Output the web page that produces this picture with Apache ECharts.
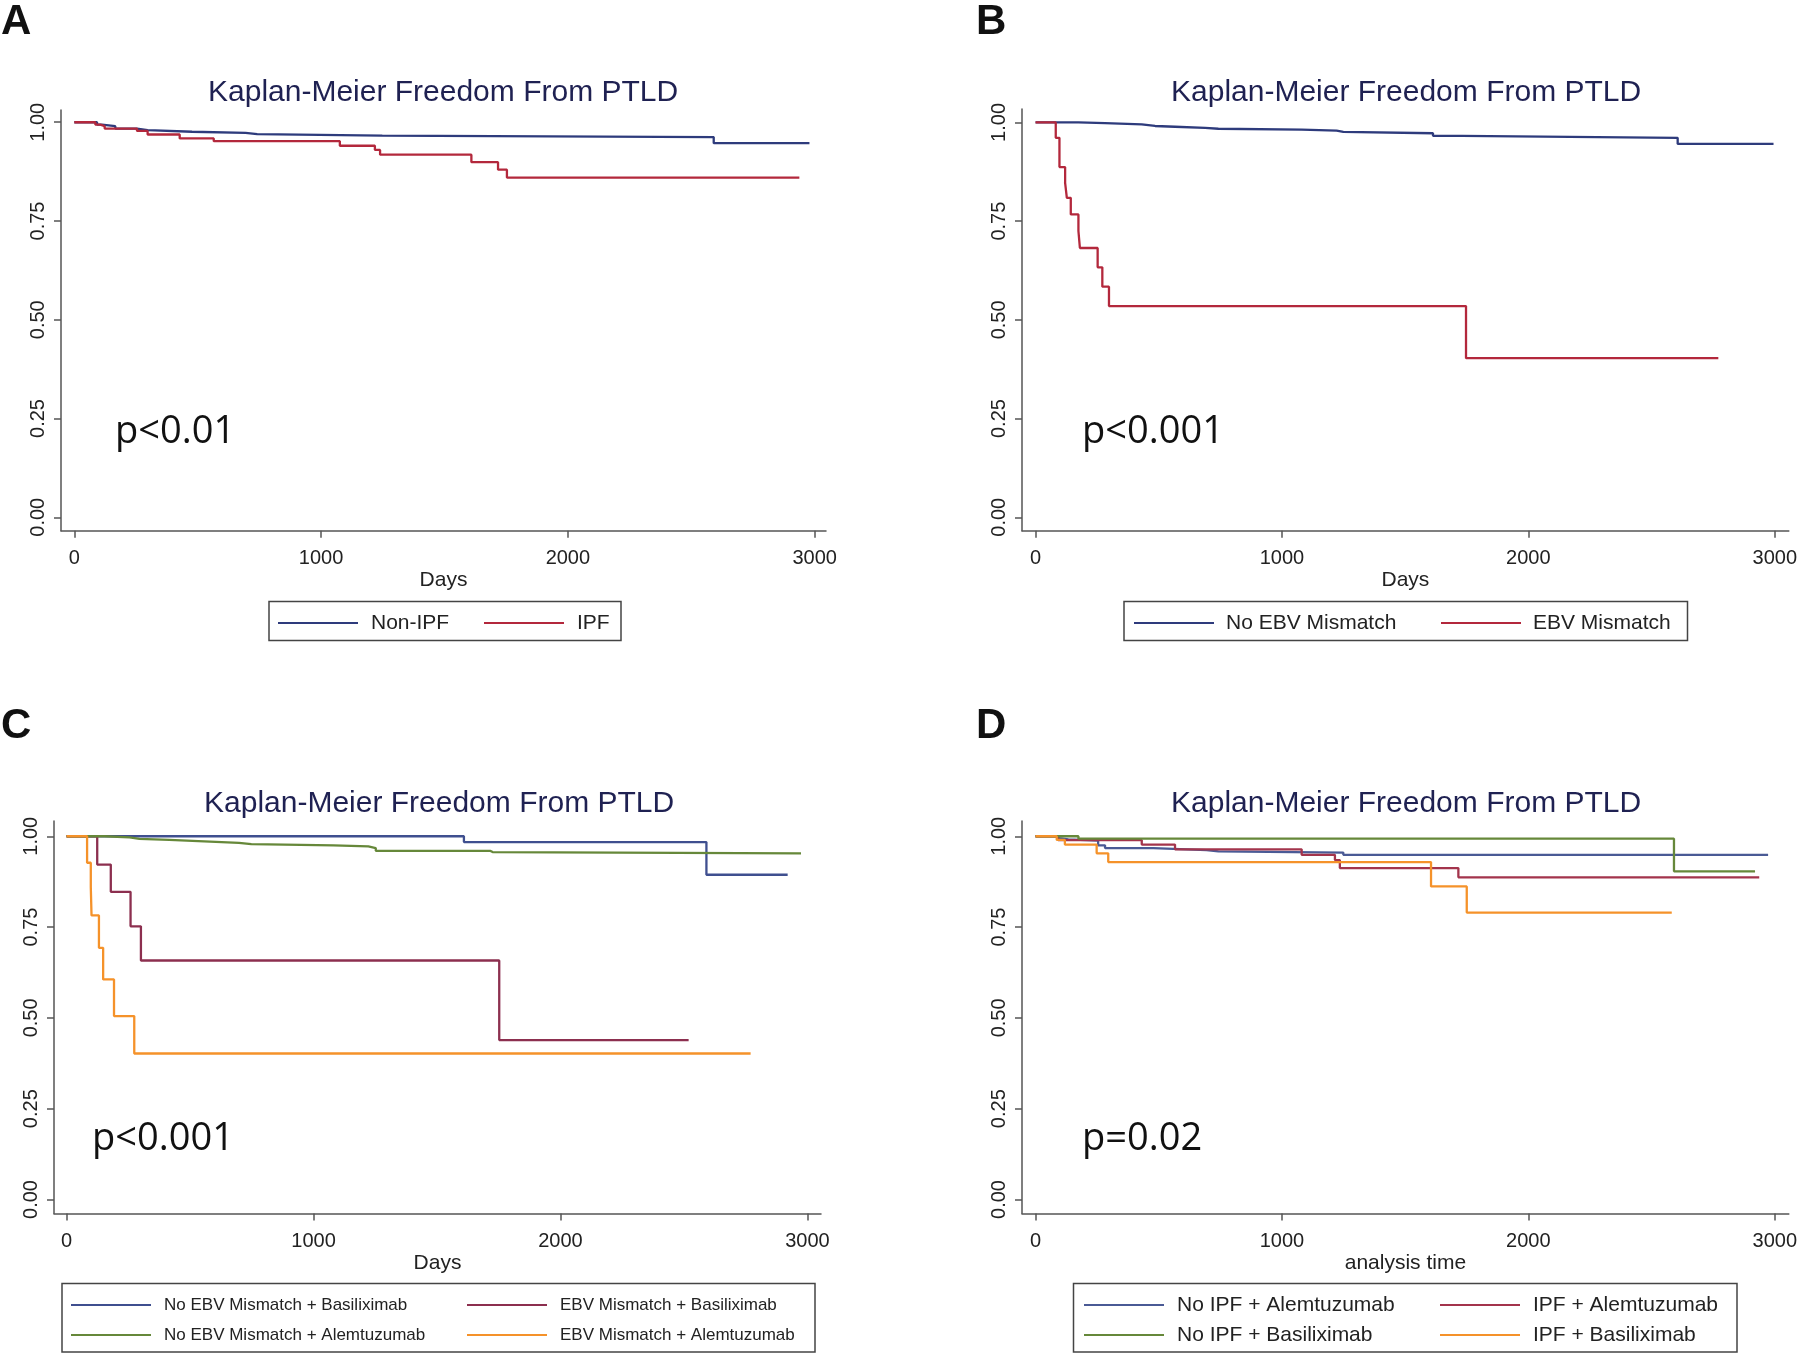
<!DOCTYPE html>
<html><head><meta charset="utf-8">
<script src="https://cdn.jsdelivr.net/npm/echarts@6/dist/echarts.min.js"></script>
<style>html,body{margin:0;padding:0;background:#fff}#c{width:1800px;height:1355px}</style>
</head><body><div id="c"></div>
<script>
// ---------- data ----------
const xTicks = [0, 1000, 2000, 3000];
const yTicks = [0, 0.25, 0.5, 0.75, 1];
const chartTitle = 'Kaplan-Meier Freedom From PTLD';
const panelLetters = ['A', 'B', 'C', 'D'];
const pValues = ['p<0.01', 'p<0.001', 'p<0.001', 'p=0.02'];
const xNames = ['Days', 'Days', 'Days', 'analysis time'];

// Panel A
const A_names = ['Non-IPF', 'IPF'];
const A_nonIPF = [[0,1],[92,0.994],[112,0.99],[166,0.984],[254,0.98],[297,0.976],[477,0.973],[694,0.97],[741,0.966],[1248,0.9625],[2591,0.947],[2979,0.947]];
const A_IPF = [[0,1],[85,0.994],[105,0.99],[123,0.984],[254,0.978],[297,0.969],[427,0.959],[565,0.952],[1076,0.9405],[1218,0.93],[1239,0.918],[1609,0.899],[1717,0.88],[1753,0.86],[2938,0.86]];

// Panel B
const B_names = ['No EBV Mismatch', 'EBV Mismatch'];
const B_noEBV = [[0,1],[174,0.998],[282,0.995],[431,0.991],[485,0.989],[566,0.986],[688,0.984],[742,0.982],[1080,0.979],[1222,0.976],[1249,0.9726],[1613,0.966],[1730,0.961],[2606,0.9456],[2995,0.9456]];
const B_EBV = [[0,1],[82,0.961],[97,0.887],[120,0.847],[127,0.809],[143,0.767],[174,0.725],[180,0.682],[252,0.633],[271,0.584],[298,0.535],[1747,0.403],[2771,0.403]];

// Panel C
const C_names = ['No EBV Mismatch + Basiliximab', 'EBV Mismatch + Basiliximab', 'No EBV Mismatch + Alemtuzumab', 'EBV Mismatch + Alemtuzumab'];
const C_noEBV_Basi = [[0,1],[1609,0.984],[2591,0.894],[2920,0.894]];
const C_EBV_Basi = [[0,1],[124,0.922],[179,0.847],[259,0.752],[301,0.658],[1752,0.439],[2519,0.439]];
const C_noEBV_Alem = [[0,1],[154,0.997],[255,0.993],[295,0.99],[416,0.986],[557,0.982],[698,0.9785],[748,0.975],[1081,0.972],[1222,0.9675],[1252,0.96],[1715,0.9565],[1725,0.953],[2974,0.953]];
const C_EBV_Alem = [[0,1],[83,0.927],[98,0.86],[101,0.782],[131,0.693],[148,0.606],[192,0.505],[274,0.402],[2770,0.402]];

// Panel D
const D_names = ['No IPF + Alemtuzumab', 'IPF + Alemtuzumab', 'No IPF + Basiliximab', 'IPF + Basiliximab'];
const D_noIPF_Alem = [[0,1],[79,0.995],[99,0.9915],[133,0.988],[254,0.975],[282,0.9675],[478,0.962],[694,0.9585],[742,0.955],[1249,0.949],[2973,0.949]];
const D_IPF_Alem = [[0,1],[92,0.9895],[431,0.977],[566,0.964],[1080,0.949],[1215,0.9345],[1235,0.9125],[1716,0.887],[2937,0.887]];
const D_noIPF_Basi = [[0,1],[174,0.9934],[2591,0.9035],[2920,0.9035]];
const D_IPF_Basi = [[0,1],[86,0.99],[119,0.977],[248,0.953],[295,0.929],[1605,0.862],[1750,0.79],[2582,0.79]];

// ---------- styling / layout ----------
const FONT = '"Liberation Sans", Arial, sans-serif';
const AX = '#555';
const TXT = '#222';
const NAVY = '#2e3b7c', RED = '#b3283c';
const C_BLUE = '#3f4f8f', C_MAROON = '#8c2f4f', GREEN = '#66883a', ORANGE = '#f5922a';
const D_BLUE = '#4a5a95', D_RED = '#a3344c';

const grids = [
  {left: 61, top: 110, width: 765, height: 420.7},
  {left: 1022, top: 109, width: 767, height: 421.7},
  {left: 54, top: 821, width: 767, height: 392.5},
  {left: 1022, top: 821, width: 767, height: 392.5}
];
const xRanges = [[-54, 3046], [-55, 3057], [-51, 3055], [-55, 3057]];
const yRanges = [[-0.034, 1.031], [-0.034, 1.034], [-0.0385, 1.042], [-0.0385, 1.042]];

function xAx(i) {
  return {type: 'value', gridIndex: i, min: xRanges[i][0], max: xRanges[i][1],
    name: xNames[i], nameLocation: 'middle', nameGap: 37,
    nameTextStyle: {fontSize: 21, color: TXT, fontFamily: FONT},
    axisLine: {show: true, onZero: false, lineStyle: {color: AX, width: 1.5}},
    axisTick: {show: true, customValues: xTicks, length: 7, lineStyle: {color: AX, width: 1.5}},
    axisLabel: {customValues: xTicks, margin: 18, fontSize: 20, color: TXT, fontFamily: FONT,
      formatter: v => String(v)},
    splitLine: {show: false}};
}
function yAx(i) {
  return {type: 'value', gridIndex: i, min: yRanges[i][0], max: yRanges[i][1],
    axisLine: {show: true, onZero: false, lineStyle: {color: AX, width: 1.5}},
    axisTick: {show: true, customValues: yTicks, length: 7, lineStyle: {color: AX, width: 1.5}},
    axisLabel: {customValues: yTicks, rotate: 90, margin: 13, fontSize: 20, color: TXT, fontFamily: FONT,
      formatter: v => v.toFixed(2)},
    splitLine: {show: false}};
}
function ser(i, name, data, color) {
  return {type: 'line', name, xAxisIndex: i, yAxisIndex: i, data, step: 'end',
    symbol: 'none', showSymbol: false, lineStyle: {width: 2.3, color}, itemStyle: {color},
    emphasis: {disabled: true}};
}
function leg(name, left, cy, fs, gap) {
  return {data: [name], left, top: cy - (fs + 4) / 2, padding: 0, itemWidth: 80, itemHeight: 2,
    icon: 'rect', selectedMode: false,
    textStyle: {fontSize: fs, color: TXT, fontFamily: FONT, lineHeight: fs + 4, padding: [0, 0, 0, gap - 5]}};
}
function ttl(x, top) {
  return {text: chartTitle, left: x, top, padding: 0, textAlign: 'left',
    textStyle: {fontSize: 30, fontWeight: 'normal', color: '#1f2152', fontFamily: FONT}};
}
function box(x, y, w, h) {
  return {type: 'rect', shape: {x, y, width: w, height: h}, silent: true,
    style: {fill: 'none', stroke: '#444', lineWidth: 1.5}};
}
function txt(x, y, text, size, bold, family) {
  return {type: 'text', x, y, silent: true,
    style: {text, fontSize: size, fontWeight: bold ? 'bold' : 'normal', fontFamily: family || FONT,
      fill: '#111', textVerticalAlign: 'middle', textAlign: 'left'}};
}

const option = {
  backgroundColor: '#fff',
  animation: false,
  title: [ttl(208, 77.5), ttl(1171, 77.5), ttl(204, 788.5), ttl(1171, 788.5)],
  grid: grids,
  xAxis: [xAx(0), xAx(1), xAx(2), xAx(3)],
  yAxis: [yAx(0), yAx(1), yAx(2), yAx(3)],
  legend: [
    leg(A_names[0], 278, 623, 21, 13), leg(A_names[1], 484, 623, 21, 13),
    leg(B_names[0], 1134, 623, 21, 12), leg(B_names[1], 1441, 623, 21, 12),
    leg(C_names[0], 71, 1305, 17, 13), leg(C_names[1], 467, 1305, 17, 13),
    leg(C_names[2], 71, 1335, 17, 13), leg(C_names[3], 467, 1335, 17, 13),
    leg(D_names[0], 1084, 1305, 21, 13), leg(D_names[1], 1440, 1305, 21, 13),
    leg(D_names[2], 1084, 1335, 21, 13), leg(D_names[3], 1440, 1335, 21, 13)
  ],
  series: [
    ser(0, A_names[0], A_nonIPF, NAVY), ser(0, A_names[1], A_IPF, RED),
    ser(1, B_names[0], B_noEBV, NAVY), ser(1, B_names[1], B_EBV, RED),
    ser(2, C_names[0], C_noEBV_Basi, C_BLUE), ser(2, C_names[1], C_EBV_Basi, C_MAROON),
    ser(2, C_names[2], C_noEBV_Alem, GREEN), ser(2, C_names[3], C_EBV_Alem, ORANGE),
    ser(3, D_names[0], D_noIPF_Alem, D_BLUE), ser(3, D_names[1], D_IPF_Alem, D_RED),
    ser(3, D_names[2], D_noIPF_Basi, GREEN), ser(3, D_names[3], D_IPF_Basi, ORANGE)
  ],
  graphic: [
    box(269, 601.5, 352, 39), box(1124, 601.5, 563.5, 39),
    box(62, 1283.5, 753, 68.5), box(1073.5, 1283.5, 663.5, 68.5),
    txt(1, 22, panelLetters[0], 42, true), txt(976, 22, panelLetters[1], 42, true),
    txt(1, 726, panelLetters[2], 42, true), txt(976, 726, panelLetters[3], 42, true),
    txt(115, 432, pValues[0], 38, false, '"Open Sans", sans-serif'),
    txt(1082, 432, pValues[1], 38, false, '"Open Sans", sans-serif'),
    txt(92, 1139, pValues[2], 38, false, '"Open Sans", sans-serif'),
    txt(1082, 1139, pValues[3], 38, false, '"Open Sans", sans-serif')
  ]
};
const chart = echarts.init(document.getElementById('c'), null, {renderer: 'canvas'});
chart.setOption(option);
</script>
</body></html>
